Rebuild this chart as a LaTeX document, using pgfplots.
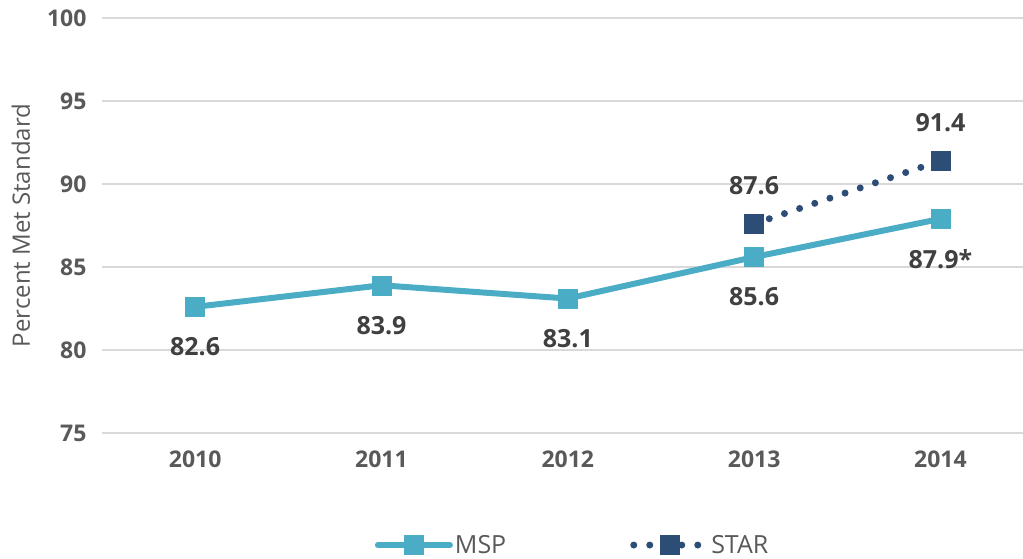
\documentclass[border=0pt]{standalone}
\usepackage{pgfplots}
\usepackage{pgfplotstable}
\pgfplotsset{compat=1.18}
\usepackage{fontspec}
\setmainfont{Open Sans}
\definecolor{msp}{HTML}{4BACC6}
\definecolor{star}{HTML}{2C4D75}
\definecolor{gridc}{HTML}{D9D9D9}
\definecolor{tickc}{HTML}{595959}
\definecolor{labc}{HTML}{404040}
\pgfplotstableread{
x y lab
0 82.6 82.6
1 83.9 83.9
2 83.1 83.1
3 85.6 85.6
4 87.9 87.9*
}\mspdata
\pgfplotstableread{
x y lab
3 87.6 87.6
4 91.4 91.4
}\stardata
\begin{document}
\begin{tikzpicture}
\useasboundingbox (0,0) rectangle (1023pt,558pt);
\begin{axis}[
  at={(102pt,125pt)}, anchor=south west,
  scale only axis, width=921pt, height=415pt,
  xmin=-0.5, xmax=4.443, ymin=75, ymax=100,
  xtick={0,...,4}, xticklabels={2010,2011,2012,2013,2014},
  ytick={75,80,...,100},
  ymajorgrids, grid style={gridc, line width=1.5pt},
  axis line style={draw=none}, major tick length=0pt,
  tick label style={font=\fontsize{23}{27}\selectfont\bfseries, text=tickc},
  yticklabel style={xshift=-12pt},
  xticklabel style={yshift=-14pt},
  /pgf/number format/assume math mode=true,
  ylabel={Percent Met Standard},
  ylabel shift=10pt,
  ylabel style={font=\fontsize{24}{28}\selectfont, text=tickc},
  clip=false,
  legend style={at={(0.511,-0.27)}, anchor=center, draw=none, fill=none,
    font=\fontsize{25}{29}\selectfont, text=tickc, legend columns=2,
    /tikz/every even column/.append style={column sep=122pt}},
  legend cell align=left,
  legend image code/.code={\draw[mark repeat=2,mark phase=2,#1] plot coordinates {(0pt,0pt)(36pt,0pt)(72pt,0pt)};},
  nodes near coords, point meta=explicit symbolic,
]
\addplot[msp, line width=6pt, line join=round, line cap=round, mark=square*,
  mark size=9.5pt, mark options={solid, fill=msp, draw=msp, line width=0.5pt},
  nodes near coords style={anchor=center, yshift=-40pt, text=labc, font=\fontsize{25}{29}\selectfont\bfseries}]
  table[x=x, y=y, meta=lab] {\mspdata};
\addlegendentry{MSP}
\addplot[star, line width=7pt, line cap=round, dash pattern=on 0pt off 16pt, mark=square*,
  mark size=9.5pt, mark options={solid, fill=star, draw=star, line width=0.5pt},
  nodes near coords style={anchor=center, yshift=38pt, text=labc, font=\fontsize{25}{29}\selectfont\bfseries}]
  table[x=x, y=y, meta=lab] {\stardata};
\addlegendentry{STAR}
\end{axis}
\end{tikzpicture}
\end{document}
